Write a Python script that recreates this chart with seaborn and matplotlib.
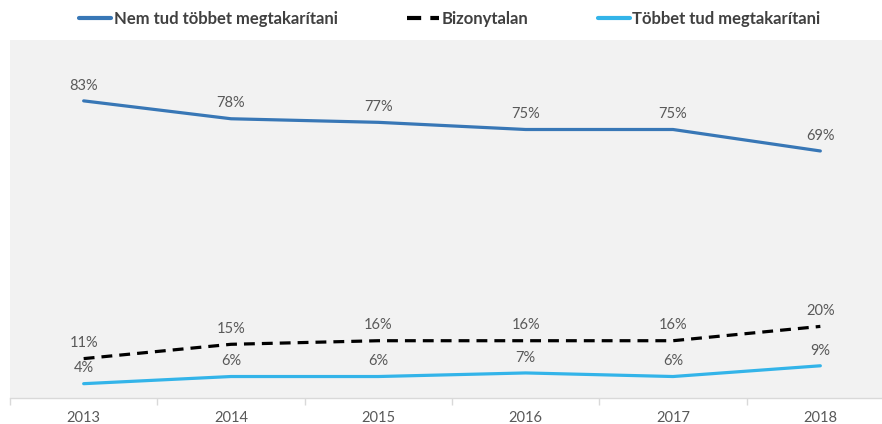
import numpy as np
import pandas as pd
import matplotlib
matplotlib.use("Agg")
import matplotlib.pyplot as plt
import seaborn as sns

# data
years = ["2013", "2014", "2015", "2016", "2017", "2018"]
nem_tud = [83, 78, 77, 75, 75, 69]
bizonytalan = [11, 15, 16, 16, 16, 20]
tobbet_tud = [4, 6, 6, 7, 6, 9]

series_names = ["Nem tud többet megtakarítani", "Bizonytalan", "Többet tud megtakarítani"]
series_values = [nem_tud, bizonytalan, tobbet_tud]
colors = ["#3877B6", "#000000", "#33B4E9"]
styles = ["-", (0, (3.4, 2.2)), "-"]

sns.set_style("white")
plt.rcParams["font.family"] = ["Lato", "DejaVu Sans"]

fig = plt.figure(figsize=(8.82, 4.24), dpi=100)
ax = fig.add_axes([10 / 882, 26 / 424, 884 / 882, 358 / 424])
ax.set_facecolor("#F2F2F2")

x = np.arange(len(years))
for name, vals, col, ls in zip(series_names, series_values, colors, styles):
    df = pd.DataFrame({"x": x, "v": vals})
    sns.lineplot(data=df, x="x", y="v", ax=ax, color=col, linewidth=2.3,
                 linestyle=ls, label=name)
    for xi, v in zip(x, vals):
        ax.annotate(f"{v}%", (xi, v), xytext=(0, 11), textcoords="offset points",
                    ha="center", va="center", fontsize=10.5, color="#595959")

ax.set_xlim(-0.5, len(years) - 0.5)
ax.set_ylim(0, 100)
ax.set_xlabel("")
ax.set_ylabel("")
ax.set_yticks([])
ax.set_xticks(x)
ax.set_xticklabels(years, fontsize=10.5, color="#595959")
ax.set_xticks(np.arange(-0.5, len(years)), minor=True)
ax.tick_params(axis="x", which="major", bottom=True, length=0, pad=9)
ax.tick_params(axis="x", which="minor", bottom=True, length=5, color="#D9D9D9", width=1)
for s in ["top", "right", "left"]:
    ax.spines[s].set_visible(False)
ax.spines["bottom"].set_color("#D9D9D9")
ax.spines["bottom"].set_linewidth(1)

leg = ax.legend(loc="center", bbox_to_anchor=(450 / 882, 1 - 19 / 424),
                bbox_transform=fig.transFigure, ncol=3, frameon=False,
                handlelength=1.9, handletextpad=0.15, columnspacing=4.2,
                prop={"weight": "bold", "size": 12})
for t in leg.get_texts():
    t.set_color("#404040")
for h in leg.get_lines():
    h.set_linewidth(3)

fig.savefig("out.png", dpi=100)
